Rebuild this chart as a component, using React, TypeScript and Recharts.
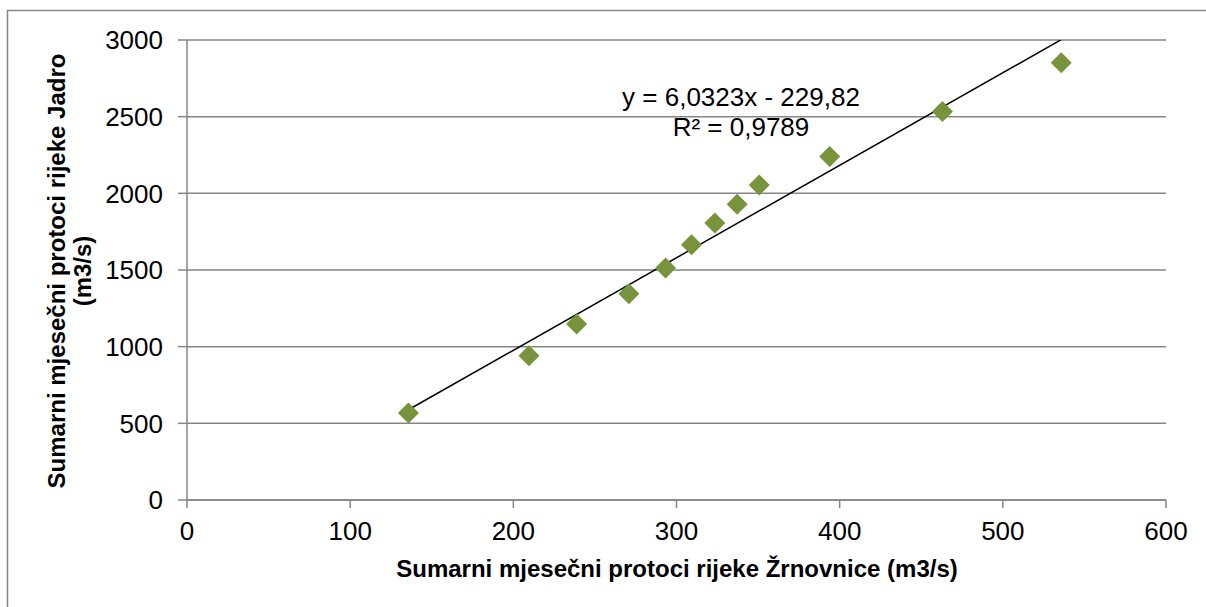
import {
  ScatterChart,
  Scatter,
  XAxis,
  YAxis,
  CartesianGrid,
} from "recharts";

// monthly sums
const zrnovnica = [135.7, 209.6, 238.8, 270.8, 293.3, 309.2, 323.5, 337.2, 350.7, 393.9, 463.0, 535.8];
const jadro = [568, 941, 1148, 1345, 1513, 1665, 1806, 1928, 2055, 2240, 2533, 2852];

const xTicks = [0, 100, 200, 300, 400, 500, 600];
const yTicks = [0, 500, 1000, 1500, 2000, 2500, 3000];

// linear trendline as printed on the chart
const SLOPE = 6.0323;
const INTERCEPT = -229.82;
const equationText = "y = 6,0323x - 229,82";
const r2Text = "R² = 0,9789";

const xTitle = "Sumarni mjesečni protoci rijeke Žrnovnice (m3/s)";
const yTitleLines = ["Sumarni mjesečni protoci rijeke Jadro", "(m3/s)"];

const FONT = '"Liberation Sans", Arial, sans-serif';
const GRID = "#868686";
const GREEN = "#77933C";

const points = zrnovnica.map((x, i) => ({ x, y: jadro[i] }));
const xMin = Math.min(...zrnovnica);
const xMax = Math.max(...zrnovnica);
const trend = [xMin, xMax].map((x) => ({ x, y: SLOPE * x + INTERCEPT }));

const Diamond = (props: any) => {
  const { cx, cy } = props;
  const r = 10.5;
  return (
    <polygon
      points={`${cx},${cy - r} ${cx + r},${cy} ${cx},${cy + r} ${cx - r},${cy}`}
      fill={GREEN}
    />
  );
};

const App = () => {
  return (
    <div
      style={{
        position: "fixed",
        left: 0,
        top: 0,
        width: 1206,
        height: 607,
        overflow: "hidden",
        background: "#fff",
        fontFamily: FONT,
      }}
    >
      <ScatterChart
        width={1206}
        height={607}
        margin={{ top: 40, right: 40, left: 0, bottom: 47 }}
      >
        <CartesianGrid vertical={false} stroke={GRID} strokeWidth={1.5} />
        <XAxis
          type="number"
          dataKey="x"
          domain={[0, 600]}
          ticks={xTicks}
          height={60}
          tickSize={8}
          tickMargin={14}
          stroke={GRID}
          strokeWidth={1.5}
          tick={{ fontSize: 26, fill: "#000", fontFamily: FONT }}
        />
        <YAxis
          type="number"
          dataKey="y"
          domain={[0, 3000]}
          allowDataOverflow
          ticks={yTicks}
          width={187}
          tickSize={9}
          tickMargin={15}
          stroke={GRID}
          strokeWidth={1.5}
          tick={{ fontSize: 26, fill: "#000", fontFamily: FONT }}
        />
        <Scatter
          data={trend}
          line={{ stroke: "#000", strokeWidth: 1.5 }}
          shape={() => <g />}
          isAnimationActive={false}
        />
        <Scatter data={points} shape={Diamond} isAnimationActive={false} />
      </ScatterChart>

      <svg
        width={1206}
        height={607}
        style={{ position: "absolute", left: 0, top: 0, pointerEvents: "none" }}
        fontFamily={FONT}
      >
        <rect x={7.5} y={10.5} width={1400} height={800} fill="none" stroke={GRID} strokeWidth={1.5} />
        <text x={741} y={106} fontSize={26} textAnchor="middle" fill="#000">
          {equationText}
        </text>
        <text x={741} y={136} fontSize={26} textAnchor="middle" fill="#000">
          {r2Text}
        </text>
        <text x={677} y={577} fontSize={24} fontWeight="bold" textAnchor="middle" fill="#000">
          {xTitle}
        </text>
        {yTitleLines.map((line, i) => (
          <text
            key={line}
            transform={`translate(${65 + i * 26},271) rotate(-90)`}
            fontSize={24}
            fontWeight="bold"
            textAnchor="middle"
            fill="#000"
          >
            {line}
          </text>
        ))}
      </svg>
    </div>
  );
};

export default App;
